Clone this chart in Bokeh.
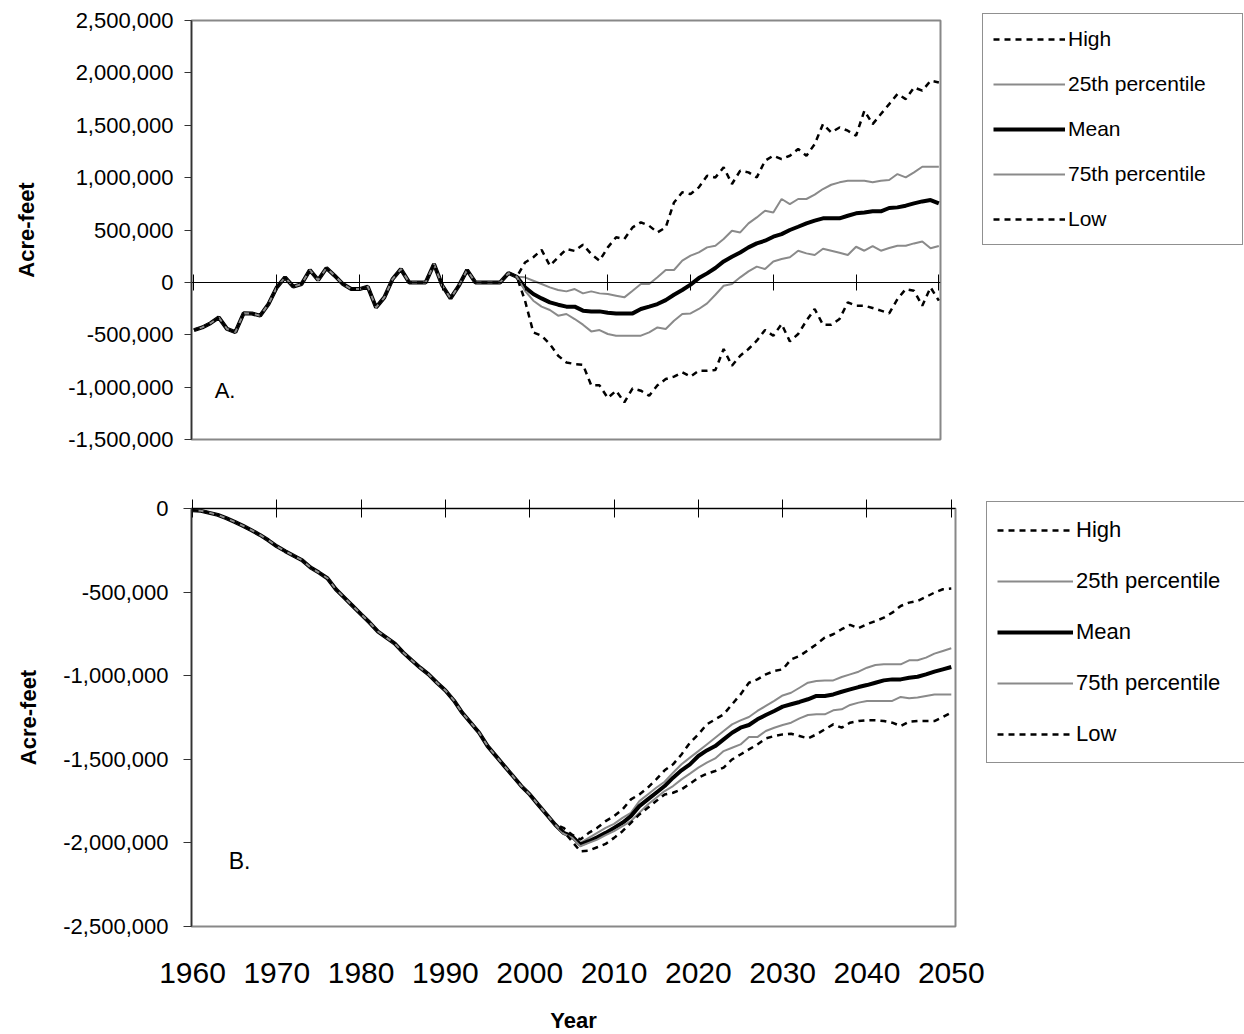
import numpy as np
from bokeh.plotting import figure
from bokeh.layouts import column
from bokeh.models import (Range1d, LinearAxis, FixedTicker, NumeralTickFormatter,
                          CustomJSTickFormatter, Legend, LegendItem, Label)
from bokeh.embed import file_html
from bokeh.resources import INLINE

FONT = "Liberation Sans"

# data (thousand acre-feet), one value per year 1960-2050
years = list(range(1960, 2051))
tick_years = list(range(1960, 2051, 10))
series_names = ["High", "25th percentile", "Mean", "75th percentile", "Low"]

# A. annual balance: observed 1960-1999, shared by all series
a_hist = [-455, -430, -390, -335, -445, -475, -295, -297, -318, -207,
          -48, 48, -41, -16, 118, 22, 137, 64, -16, -64,
          -64, -41, -239, -143, 32, 127, 0, 0, 0, 175,
          -30, -153, -32, 118, 0, 0, 0, 0, 89, 54]
# A. projections 2000-2050
a_high = [190, 240, 310, 160, 240, 318, 300, 360, 270, 207,
          334, 430, 414, 525, 573, 540, 477, 525, 763, 860,
          843, 907, 1018, 1002, 1098, 939, 1066, 1050, 1002, 1161,
          1209, 1177, 1209, 1273, 1209, 1320, 1511, 1432, 1479, 1448,
          1400, 1639, 1511, 1607, 1702, 1798, 1750, 1861, 1830, 1925, 1909]
a_p25 = [48, 16, -16, -48, -73, -86, -64, -105, -86, -105,
         -111, -127, -143, -80, -16, -16, 48, 118, 118, 207,
         255, 286, 334, 350, 414, 493, 477, 563, 620, 684,
         668, 796, 748, 796, 796, 837, 891, 932, 955, 970,
         970, 970, 955, 970, 977, 1034, 1002, 1050, 1104, 1104, 1104]
a_mean = [-48, -111, -153, -191, -213, -232, -232, -270, -277, -277,
          -290, -296, -296, -296, -254, -232, -207, -169, -118, -73,
          -22, 41, 86, 137, 200, 245, 286, 334, 372, 398,
          436, 461, 500, 531, 563, 589, 611, 611, 611, 636,
          659, 668, 678, 678, 710, 716, 732, 754, 773, 786, 754]
a_p75 = [-80, -175, -232, -264, -318, -302, -350, -404, -468, -455,
         -493, -509, -509, -509, -509, -477, -430, -445, -366, -302,
         -296, -254, -200, -118, -32, -16, 48, 105, 150, 127,
         200, 223, 239, 302, 277, 261, 321, 302, 283, 261,
         340, 302, 347, 302, 328, 350, 350, 372, 391, 325, 347]
a_low = [-175, -477, -509, -589, -700, -764, -780, -786, -983, -983,
         -1104, -1034, -1145, -1012, -1034, -1082, -983, -923, -900, -859,
         -900, -843, -843, -837, -636, -796, -700, -636, -557, -455,
         -509, -398, -563, -493, -366, -254, -404, -404, -350, -191,
         -223, -223, -245, -270, -296, -159, -64, -80, -223, -48, -175]

# B. cumulative: observed 1960-2003, shared by all series
b_hist = [-10, -14, -26, -38, -58, -80, -104, -130, -158, -190,
          -226, -255, -283, -309, -353, -383, -417, -483, -533, -583,
          -633, -682, -736, -772, -808, -862, -908, -952, -992, -1042,
          -1088, -1148, -1222, -1281, -1341, -1421, -1481, -1541, -1600, -1660,
          -1710, -1771, -1830, -1890]
# B. projections 2004-2050
b_high = [-1910, -1950, -1980, -1940, -1910, -1870, -1840, -1800, -1740, -1710,
          -1670, -1620, -1566, -1530, -1471, -1401, -1351, -1291, -1261, -1231,
          -1171, -1112, -1042, -1022, -992, -972, -962, -902, -882, -848,
          -812, -772, -752, -722, -696, -716, -692, -673, -653, -623,
          -583, -563, -553, -529, -503, -483, -479]
b_p25 = [-1935, -1958, -2000, -1970, -1940, -1910, -1886, -1850, -1820, -1750,
         -1710, -1670, -1634, -1580, -1530, -1490, -1451, -1411, -1371, -1331,
         -1291, -1267, -1247, -1211, -1181, -1151, -1118, -1102, -1072, -1042,
         -1032, -1028, -1028, -1008, -992, -976, -952, -936, -932, -932,
         -932, -908, -908, -892, -868, -852, -836]
b_mean = [-1940, -1960, -2010, -1990, -1966, -1940, -1910, -1880, -1840, -1780,
          -1740, -1700, -1660, -1610, -1566, -1530, -1480, -1447, -1421, -1381,
          -1341, -1311, -1295, -1261, -1235, -1211, -1185, -1171, -1157, -1141,
          -1121, -1121, -1112, -1096, -1082, -1068, -1056, -1042, -1028, -1022,
          -1022, -1012, -1006, -992, -976, -962, -948]
b_p75 = [-1945, -1968, -2020, -2000, -1980, -1954, -1930, -1900, -1870, -1820,
         -1770, -1730, -1690, -1660, -1620, -1586, -1550, -1520, -1495, -1451,
         -1431, -1411, -1367, -1367, -1331, -1311, -1295, -1281, -1255, -1235,
         -1231, -1231, -1207, -1201, -1175, -1161, -1151, -1151, -1151, -1151,
         -1127, -1135, -1131, -1121, -1112, -1112, -1112]
b_low = [-1930, -1990, -2050, -2046, -2026, -2006, -1970, -1930, -1880, -1830,
         -1790, -1750, -1710, -1700, -1680, -1646, -1610, -1586, -1570, -1550,
         -1501, -1471, -1441, -1411, -1375, -1361, -1351, -1347, -1361, -1375,
         -1351, -1321, -1291, -1311, -1281, -1271, -1267, -1267, -1271, -1281,
         -1301, -1275, -1271, -1271, -1271, -1247, -1221]

a_ticks = list(range(-1500000, 2500001, 500000))
b_ticks = list(range(-2500000, 1, 500000))

# line styles for High, 25th, Mean, 75th, Low
styles = [dict(line_color="black", line_width=2.5, line_dash="6 5"),
          dict(line_color="#8a8a8a", line_width=2),
          dict(line_color="black", line_width=4),
          dict(line_color="#8a8a8a", line_width=2),
          dict(line_color="black", line_width=2.5, line_dash="6 5")]


def full(hist, tail):
    return np.array(hist + tail) * 1000.0


def style_left_axis(ax):
    ax.axis_label = "Acre-feet"
    ax.axis_label_text_font = FONT
    ax.axis_label_text_font_style = "bold"
    ax.axis_label_text_font_size = "22px"
    ax.axis_label_text_color = "black"
    ax.major_label_text_font = FONT
    ax.major_label_text_font_size = "22px"
    ax.major_label_text_color = "black"
    ax.formatter = NumeralTickFormatter(format="0,0")
    ax.major_tick_in = 0
    ax.major_tick_out = 7
    ax.minor_tick_line_color = None
    ax.axis_line_color = "#333333"
    ax.axis_line_width = 1.5
    ax.major_tick_line_color = "#333333"


def blank_axis():
    return LinearAxis(ticker=FixedTicker(ticks=tick_years),
                      formatter=CustomJSTickFormatter(code="return ''"),
                      major_tick_in=8, major_tick_out=8,
                      minor_tick_line_color=None,
                      axis_line_color="black", major_tick_line_color="black")


def make_legend(renderers, loc, font_size, gh, glyph_w, label_w, spacing):
    items = [LegendItem(label=n, renderers=[r]) for n, r in zip(series_names, renderers)]
    return Legend(items=items, location=loc, margin=0, padding=10, spacing=spacing,
                  glyph_width=glyph_w, glyph_height=gh, label_height=gh,
                  label_width=label_w, label_standoff=3,
                  label_text_font=FONT, label_text_font_size=font_size,
                  label_text_color="black",
                  border_line_color="#222222", border_line_width=1,
                  background_fill_color="white")


# ---- panel A
pa = figure(frame_width=749, frame_height=419,
            x_range=Range1d(1959.7, 2050.2), y_range=Range1d(-1500000, 2500000),
            x_axis_location=None, output_backend="svg", toolbar_location=None,
            min_border_left=191, min_border_right=304, min_border_top=20, min_border_bottom=35)
pa.grid.grid_line_color = None
pa.outline_line_color = "#888888"
pa.outline_line_width = 2
pa.yaxis.ticker = FixedTicker(ticks=a_ticks)
style_left_axis(pa.yaxis[0])
pa.yaxis.axis_label_standoff = 26
pa.yaxis.major_label_standoff = 11

xa = blank_axis()
xa.fixed_location = 0
pa.add_layout(xa, "below")

a_series = [full(a_hist, t) for t in (a_high, a_p25, a_mean, a_p75, a_low)]
ra = [pa.line(years, s, **st) for s, st in zip(a_series, styles)]
pa.add_layout(make_legend(ra, (42, 194), "21px", 30, 72, 164, 15), "right")
pa.add_layout(Label(x=1962.5, y=-1030000, text="A.", text_baseline="middle",
                    text_font=FONT, text_font_size="22px", text_color="black"))

# ---- panel B
pb = figure(frame_width=764, frame_height=418,
            x_range=Range1d(1959.88, 2050.5), y_range=Range1d(-2500000, 0),
            output_backend="svg", toolbar_location=None,
            min_border_left=189, min_border_right=291, min_border_top=34, min_border_bottom=108)
pb.grid.grid_line_color = None
pb.outline_line_color = "#888888"
pb.outline_line_width = 2
pb.yaxis.ticker = FixedTicker(ticks=b_ticks)
style_left_axis(pb.yaxis[0])
pb.yaxis.axis_label_standoff = 19
pb.yaxis.major_label_standoff = 15
pb.yaxis.major_tick_out = 8

bx = pb.xaxis[0]
bx.ticker = FixedTicker(ticks=tick_years)
bx.major_tick_in = 0
bx.major_tick_out = 0
bx.minor_tick_line_color = None
bx.axis_line_color = None
bx.major_label_text_font = FONT
bx.major_label_text_font_size = "30px"
bx.major_label_text_color = "black"
bx.major_label_standoff = 36
bx.axis_label = "Year"
bx.axis_label_text_font = FONT
bx.axis_label_text_font_style = "bold"
bx.axis_label_text_font_size = "22px"
bx.axis_label_text_color = "black"
bx.axis_label_standoff = 22

top_axis = blank_axis()
top_axis.major_tick_in = 9
top_axis.major_tick_out = 9
pb.add_layout(top_axis, "above")

b_series = [full(b_hist, t) for t in (b_high, b_p25, b_mean, b_p75, b_low)]
rb = [pb.line(years, s, **st) for s, st in zip(b_series, styles)]
pb.add_layout(make_legend(rb, (31, 163), "22px", 36, 76, 160, 15), "right")
pb.add_layout(Label(x=1964.3, y=-2110000, text="B.", text_baseline="middle",
                    text_font=FONT, text_font_size="23px", text_color="black"))

layout = column(pa, pb)
open("out.html", "w").write(file_html(layout, INLINE))
